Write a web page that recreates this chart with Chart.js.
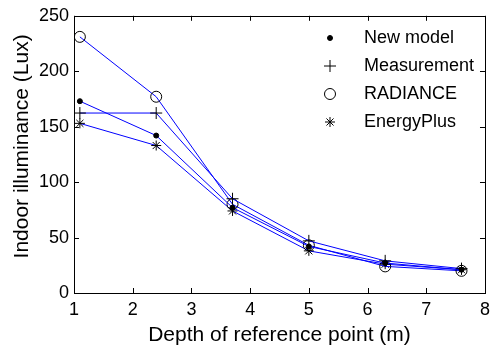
<!DOCTYPE html>
<html>
<head>
<meta charset="utf-8">
<script src="https://cdn.jsdelivr.net/npm/chart.js@4/dist/chart.umd.min.js"></script>
<style>
html,body{margin:0;padding:0;background:#fff;}
#wrap{width:496px;height:359px;}
</style>
</head>
<body>
<div id="wrap"><canvas id="c" width="496" height="359"></canvas></div>
<script>
const depths = [1.1, 2.4, 3.7, 5.0, 6.3, 7.6];
const newModel = [173, 142, 77, 42, 27, 21];
const measurement = [162.3, 162.3, 85, 47, 29, 22];
const radiance = [231, 177, 80, 43, 24, 20];
const energyPlus = [153, 133, 74, 38, 26, 21];
const seriesLabels = ['New model', 'Measurement', 'RADIANCE', 'EnergyPlus'];
const xTicks = [1, 2, 3, 4, 5, 6, 7, 8];
const yTicks = [0, 50, 100, 150, 200, 250];
const xTitle = 'Depth of reference point (m)';
const yTitle = 'Indoor illuminance (Lux)';

const FONT = "'Liberation Sans', Arial, sans-serif";

function pts(vals){ return depths.map((x,i)=>({x:x, y:vals[i]})); }

const styles = [
  {pointStyle:'circle', radius:2.5, bg:'#000'},
  {pointStyle:'cross', radius:6, bg:'#000'},
  {pointStyle:'circle', radius:5.5, bg:'rgba(0,0,0,0)'},
  {pointStyle:'star', radius:5, bg:'#000'}
];
const allVals = [newModel, measurement, radiance, energyPlus];

const datasets = allVals.map((v,i)=>({
  label: seriesLabels[i],
  data: pts(v),
  borderColor: '#0000ff',
  borderWidth: 1,
  backgroundColor: '#0000ff',
  pointStyle: styles[i].pointStyle,
  pointRadius: styles[i].radius,
  pointHoverRadius: styles[i].radius,
  pointBorderColor: '#000',
  pointBackgroundColor: styles[i].bg,
  pointBorderWidth: 1,
  fill: false,
  tension: 0
}));

const framePlugin = {
  id: 'frame',
  afterDraw(chart){
    const ctx = chart.ctx;
    const a = chart.chartArea;
    const xs = chart.scales.x, ys = chart.scales.y;
    ctx.save();
    ctx.strokeStyle = '#000';
    ctx.lineWidth = 1;
    ctx.strokeRect(Math.round(a.left)+0.5, Math.round(a.top)+0.5, Math.round(a.right-a.left), Math.round(a.bottom-a.top));
    const L = 5;
    ctx.beginPath();
    xTicks.forEach(t=>{
      const px = Math.round(xs.getPixelForValue(t))+0.5;
      ctx.moveTo(px, a.bottom); ctx.lineTo(px, a.bottom-L);
      ctx.moveTo(px, a.top); ctx.lineTo(px, a.top+L);
    });
    yTicks.forEach(t=>{
      const py = Math.round(ys.getPixelForValue(t))+0.5;
      ctx.moveTo(a.left, py); ctx.lineTo(a.left+L, py);
      ctx.moveTo(a.right, py); ctx.lineTo(a.right-L, py);
    });
    ctx.stroke();

    // y axis title (placed slightly above the axis centre, as in the reference)
    ctx.save();
    ctx.font = '21px ' + FONT;
    ctx.fillStyle = '#000';
    ctx.textAlign = 'center';
    ctx.textBaseline = 'middle';
    ctx.translate(22, (a.top + a.bottom) / 2 - 8);
    ctx.rotate(-Math.PI / 2);
    ctx.fillText(yTitle, 0, 0);
    ctx.restore();

    // legend
    const mx = 330, tx = 364;
    const rows = [38, 66, 94, 122];
    ctx.font = '18px ' + FONT;
    ctx.textBaseline = 'middle';
    ctx.textAlign = 'left';
    chart.data.datasets.forEach((ds,i)=>{
      ctx.fillStyle = ds.pointBackgroundColor;
      ctx.strokeStyle = '#000';
      ctx.lineWidth = 1;
      Chart.helpers.drawPoint(ctx, {
        pointStyle: ds.pointStyle,
        radius: ds.pointRadius,
        rotation: 0,
        borderWidth: 1
      }, mx, rows[i]);
      ctx.fillStyle = '#000';
      ctx.fillText(ds.label, tx, rows[i]);
    });
    ctx.restore();
  }
};

new Chart(document.getElementById('c'), {
  type: 'line',
  data: { datasets },
  options: {
    responsive: false,
    animation: false,
    devicePixelRatio: 1,
    layout: { padding: { top: 15, right: 7, left: 0, bottom: 0 } },
    plugins: { legend: { display: false }, tooltip: { enabled: false } },
    scales: {
      x: {
        type: 'linear',
        min: 1, max: 8,
        afterBuildTicks(s){ s.ticks = xTicks.map(v=>({value:v})); },
        afterFit(s){ s.height = 66; },
        grid: { display: false, drawTicks: false },
        border: { display: false },
        ticks: { color: '#000', font: { size: 18, family: FONT }, padding: 6, maxRotation: 0 },
        title: { display: true, text: xTitle, color: '#000', font: { size: 21, family: FONT }, padding: { top: 0, bottom: 11 } }
      },
      y: {
        type: 'linear',
        min: 0, max: 250,
        afterBuildTicks(s){ s.ticks = yTicks.map(v=>({value:v})); },
        afterFit(s){ s.width = 74; },
        grid: { display: false, drawTicks: false },
        border: { display: false },
        ticks: { color: '#000', font: { size: 18, family: FONT }, padding: 5 },
        title: { display: false, text: yTitle }
      }
    }
  },
  plugins: [framePlugin]
});
</script>
</body>
</html>
